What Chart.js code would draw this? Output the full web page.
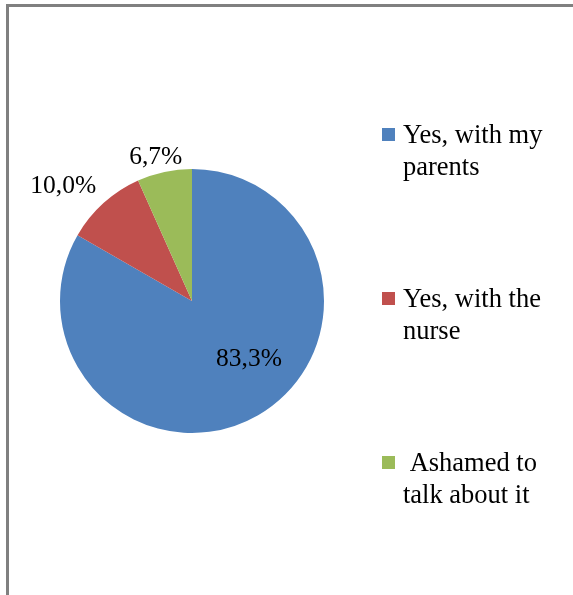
<!DOCTYPE html>
<html>
<head>
<meta charset="utf-8">
<script src="https://cdn.jsdelivr.net/npm/chart.js@4/dist/chart.umd.min.js"></script>
<style>
    html, body { margin: 0; padding: 0; background: #fff; }
    #wrap { position: relative; width: 573px; height: 595px; overflow: hidden; }
    #frame {
        position: absolute; left: 6px; top: 4px; width: 600px; height: 588px;
        border-left: 3px solid #808080; border-top: 3px solid #808080;
        border-bottom: 1px solid #e0e0e0;
    }
    canvas { position: absolute; left: 0; top: 0; }
</style>
</head>
<body>
<div id="wrap">
    <div id="frame"></div>
    <canvas id="myChart" width="573" height="595"></canvas>
</div>
<script>
// chart values
const categories = [['Yes, with my', 'parents'], ['Yes, with the', 'nurse'], [' Ashamed to', 'talk about it']];
const shares = [83.3, 10.0, 6.7];
const valueLabels = ['83,3%', '10,0%', '6,7%'];
const colors = ['#4F81BD', '#C0504D', '#9BBB59'];

const LABEL_FONT = '25.5px "Liberation Serif", "Times New Roman", serif';
const LEGEND_FONT = '26.5px "Liberation Serif", "Times New Roman", serif';

// label placement: distance from centre (fraction of radius) and angle nudge in degrees
const labelPlace = [
    { r: 0.61, da: -15 },
    { r: 1.31, da: -6 },
    { r: 1.13, da: -2 }
];

const pieLabels = {
    id: 'pieLabels',
    afterDatasetsDraw(chart) {
        const ctx = chart.ctx;
        const arcs = chart.getDatasetMeta(0).data;
        ctx.save();
        ctx.font = LABEL_FONT;
        ctx.fillStyle = '#000';
        ctx.textAlign = 'center';
        ctx.textBaseline = 'middle';
        arcs.forEach((arc, i) => {
            const p = arc.getProps(['x', 'y', 'startAngle', 'endAngle', 'outerRadius'], true);
            const a = (p.startAngle + p.endAngle) / 2 + labelPlace[i].da * Math.PI / 180;
            const r = p.outerRadius * labelPlace[i].r;
            ctx.fillText(valueLabels[i], p.x + Math.cos(a) * r, p.y + Math.sin(a) * r + 1);
        });
        ctx.restore();
    }
};

const sideLegend = {
    id: 'sideLegend',
    afterDraw(chart) {
        const ctx = chart.ctx;
        const tops = [127, 291, 455];
        ctx.save();
        ctx.font = LEGEND_FONT;
        ctx.textBaseline = 'alphabetic';
        chart.data.labels.forEach((lines, i) => {
            ctx.fillStyle = chart.data.datasets[0].backgroundColor[i];
            ctx.fillRect(382, tops[i] + 1, 13, 13);
            ctx.fillStyle = '#000';
            lines.forEach((t, j) => {
                ctx.fillText(t, 403, tops[i] + 16 + j * 32);
            });
        });
        ctx.restore();
    }
};

let myChart = new Chart(document.getElementById('myChart').getContext('2d'), {
    type: 'pie',
    data: {
        labels: categories,
        datasets: [{ data: shares, backgroundColor: colors, borderWidth: 0 }]
    },
    options: {
        responsive: false,
        animation: false,
        layout: { padding: { left: 60, right: 249, top: 169, bottom: 162 } },
        plugins: {
            legend: { display: false },
            tooltip: { enabled: false }
        }
    },
    plugins: [pieLabels, sideLegend]
});
</script>
</body>
</html>
